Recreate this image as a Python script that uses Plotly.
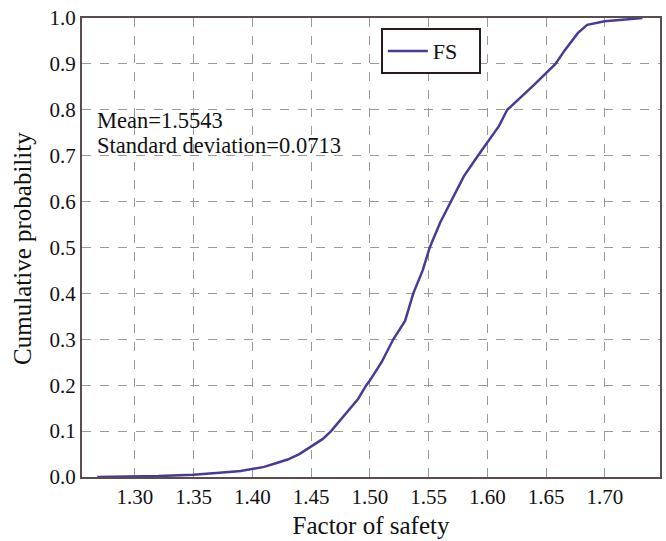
import plotly.graph_objects as go

fs_values = [1.268, 1.29, 1.30, 1.32, 1.35, 1.37, 1.38, 1.39, 1.40, 1.41, 1.42, 1.43, 1.44, 1.45,
             1.46, 1.467, 1.475, 1.48, 1.49, 1.497, 1.50, 1.51, 1.52, 1.53, 1.537, 1.545, 1.551,
             1.56, 1.569, 1.58, 1.592, 1.60, 1.61, 1.617, 1.63, 1.64, 1.65, 1.658, 1.666, 1.677,
             1.685, 1.694, 1.70, 1.715, 1.732]
cum_prob = [0.0, 0.0005, 0.001, 0.002, 0.005, 0.008, 0.011, 0.013, 0.017, 0.022, 0.03, 0.038, 0.05, 0.066,
            0.083, 0.10, 0.125, 0.14, 0.17, 0.20, 0.21, 0.25, 0.30, 0.34, 0.40, 0.45, 0.50,
            0.555, 0.60, 0.655, 0.70, 0.73, 0.765, 0.80, 0.83, 0.855, 0.88, 0.90, 0.93, 0.967,
            0.985, 0.99, 0.993, 0.996, 1.0]

x_ticks = [1.30, 1.35, 1.40, 1.45, 1.50, 1.55, 1.60, 1.65, 1.70]
y_ticks = [0.0, 0.1, 0.2, 0.3, 0.4, 0.5, 0.6, 0.7, 0.8, 0.9, 1.0]

font_family = "Liberation Serif, Times New Roman, serif"

fig = go.Figure()
fig.add_trace(go.Scatter(x=fs_values, y=cum_prob, mode="lines", name="FS\u00a0\u00a0\u00a0",
                         showlegend=True, line=dict(color="#4a3a98", width=2.5)))

axis_common = dict(showline=True, linecolor="#5a4d4d", linewidth=2, mirror=True,
                   showgrid=True, gridcolor="#9a9a9a", griddash="dash", gridwidth=1,
                   ticks="", zeroline=False,
                   tickfont=dict(family=font_family, size=21, color="#111"),
                   title_font=dict(family=font_family, size=25, color="#111"))

fig.update_xaxes(range=[1.255, 1.747], tickvals=x_ticks,
                 ticktext=[f"{v:.2f}" for v in x_ticks], title_text="Factor of safety",
                 title_standoff=8, **axis_common)
fig.update_yaxes(range=[0, 1.0], tickvals=y_ticks,
                 ticktext=[f"{v:.1f}" for v in y_ticks], **axis_common)

fig.add_annotation(x=-0.102, y=0.497, xref="paper", yref="paper", xanchor="center", yanchor="middle",
                   text="Cumulative probability", showarrow=False, textangle=-90,
                   font=dict(family=font_family, size=25, color="#111"))
fig.add_annotation(x=0.022, y=0.777, xref="paper", yref="paper", xanchor="left", yanchor="middle",
                   text="Mean=1.5543", showarrow=False,
                   font=dict(family=font_family, size=22.5, color="#111"))
fig.add_annotation(x=0.022, y=0.722, xref="paper", yref="paper", xanchor="left", yanchor="middle",
                   text="Standard deviation=0.0713", showarrow=False,
                   font=dict(family=font_family, size=22.5, color="#111"))

fig.update_layout(width=666, height=541, margin=dict(l=82, r=4, t=18, b=64),
                  plot_bgcolor="white", paper_bgcolor="white", showlegend=True,
                  legend=dict(x=0.517, y=0.978, xanchor="left", yanchor="top",
                              bordercolor="#2a1a1a", borderwidth=2, bgcolor="white",
                              font=dict(family=font_family, size=22, color="#111"),
                              itemwidth=40))

fig.write_html("out.html")
